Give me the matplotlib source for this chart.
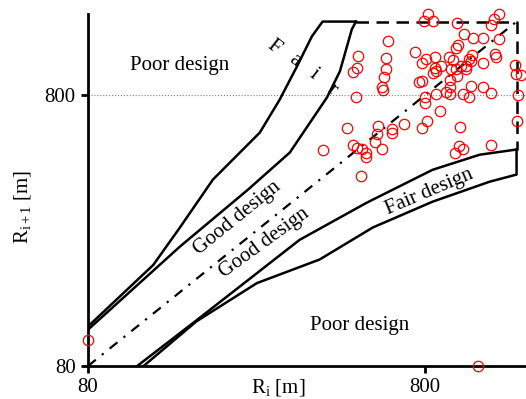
import numpy as np
import matplotlib.pyplot as plt
from matplotlib.ticker import NullLocator

plt.rcParams['font.family'] = 'Liberation Serif'
plt.rcParams['mathtext.fontset'] = 'custom'
plt.rcParams['mathtext.rm'] = 'Liberation Serif'
plt.rcParams['mathtext.it'] = 'Liberation Serif:italic'

# design boundaries (R_i, R_i+1) in m
fair_up_x = [80, 125, 150, 188, 259, 297, 334, 370, 398, 500]
fair_up_y = [112, 189, 260, 391, 583, 773, 1024, 1323, 1500, 1500]
good_up_x = [80, 150, 239, 318, 410, 448, 486, 500]
good_up_y = [109, 221, 359, 492, 786, 982, 1403, 1500]
good_lo_x = [112, 168, 340, 538, 845, 1165, 1500]
good_lo_y = [80, 118, 234, 321, 425, 483, 505]
fair_lo_x = [117, 168, 254, 390, 561, 845, 1248, 1500, 1500]
fair_lo_y = [80, 117, 162, 198, 260, 324, 384, 408, 505]
box_x = [500, 1500, 1500]
box_y = [1500, 1500, 505]
diag = [80, 1500]

# observed pairs of successive radii
r_i = [821, 798, 849, 998, 1333, 1288, 1262, 623, 1050, 1111, 1195, 1333, 1007, 991,
       747, 507, 613, 856, 807, 785, 943, 969, 1103, 1086, 1294, 1302, 1189, 505,
       489, 616, 897, 858, 845, 862, 957, 991, 1025, 1061, 1098, 1483, 1493, 1549,
       606, 784, 949, 596, 603, 953, 499, 800, 862, 923, 953, 1040, 1081, 1098,
       1195, 1262, 1513, 804, 888, 812, 785, 693, 638, 641, 580, 579, 470, 1018,
       1500, 570, 597, 489, 504, 521, 535, 537, 399, 1014, 1038, 987, 1262, 519,
       1059, 996, 768, 80, 1149]
r_next = [1600, 1508, 1508, 1487, 1596, 1538, 1462, 1271, 1346, 1301, 1309, 1298, 1229, 1202,
          1162, 1119, 1100, 1109, 1088, 1058, 1113, 1081, 1125, 1088, 1135, 1113, 1058, 1013,
          976, 1005, 1028, 1013, 965, 984, 999, 999, 1028, 1028, 1072, 1033, 957, 954,
          935, 904, 909, 862, 837, 862, 791, 791, 807, 826, 807, 807, 791, 866,
          862, 814, 800, 752, 700, 645, 605, 625, 602, 582, 619, 574, 604, 609,
          645, 537, 509, 524, 510, 509, 491, 474, 502, 522, 509, 491, 524, 402,
          999, 941, 894, 100, 80]

fig = plt.figure(figsize=(5.26, 3.99), dpi=100)
ax = fig.add_axes([88/526, 33/399, 438/526, 352/399])
ax.set_xscale('log')
ax.set_yscale('log')
ax.set_xlim(80, 1600)
ax.set_ylim(80, 1600)

ax.axhline(800, color='gray', lw=0.8, ls=':', zorder=1)

ax.plot(fair_up_x, fair_up_y, 'k-', lw=1.8)
ax.plot(good_up_x, good_up_y, 'k-', lw=1.8)
ax.plot(good_lo_x, good_lo_y, 'k-', lw=1.8)
ax.plot(fair_lo_x, fair_lo_y, 'k-', lw=1.8)
ax.plot(box_x, box_y, 'k-', lw=1.8, dashes=[5, 3])
ax.plot(diag, diag, 'k-', lw=1.6, dashes=[4.5, 3.5, 1, 3.5])

ax.plot(r_i, r_next, 'o', mfc='none', mec='red', ms=7.5, mew=0.9, clip_on=False, zorder=5)

for s in ['top', 'right']:
    ax.spines[s].set_visible(False)
for s in ['left', 'bottom']:
    ax.spines[s].set_linewidth(2)

ax.set_xticks([80, 800])
ax.set_xticklabels(['80', '800'])
ax.set_yticks([80, 800])
ax.set_yticklabels(['80', '800'])
ax.xaxis.set_minor_locator(NullLocator())
ax.yaxis.set_minor_locator(NullLocator())
ax.tick_params(direction='out', length=5, width=2, labelsize=15, pad=4)

ax.set_xlabel(r'R$_{\mathrm{i}}$ [m]', fontsize=15)
ax.xaxis.set_label_coords(0.435, -0.03)
ax.set_ylabel(r'R$_{\mathrm{i+1}}$ [m]', fontsize=15)
ax.yaxis.set_label_coords(-0.125, 0.452)

tk = dict(transform=ax.transAxes, fontsize=15, ha='center', va='center')
ax.text(0.21, 0.855, 'Poor design', **tk)
ax.text(0.621, 0.114, 'Poor design', **tk)
ax.text(0.340, 0.420, 'Good design', rotation=39, **tk)
ax.text(0.402, 0.349, 'Good design', rotation=36, **tk)
ax.text(0.779, 0.494, 'Fair design', rotation=23, **tk)
for ch, fx, fy in [('F', 0.425, 0.906), ('a', 0.473, 0.867), ('i', 0.516, 0.830), ('r', 0.557, 0.786)]:
    ax.text(fx, fy, ch, rotation=-38, **tk)

fig.savefig('out.png', dpi=100)
